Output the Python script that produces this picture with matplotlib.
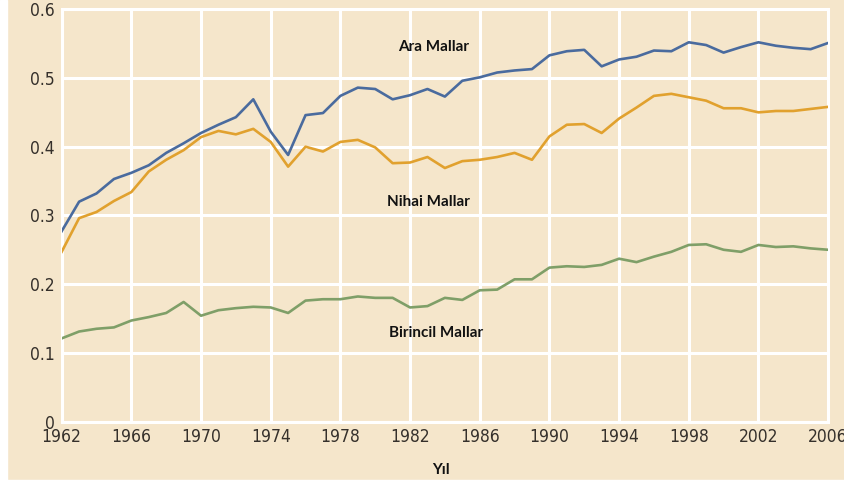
import matplotlib
matplotlib.use("Agg")
import matplotlib.pyplot as plt
from matplotlib.patches import Rectangle

years = list(range(1962, 2007))

# Ara Mallar (ara mallar payı)
ara = [0.277, 0.320, 0.332, 0.353, 0.362, 0.373, 0.391, 0.405, 0.420, 0.432,
       0.443, 0.469, 0.422, 0.388, 0.446, 0.449, 0.474, 0.486, 0.484, 0.469,
       0.475, 0.484, 0.473, 0.496, 0.501, 0.508, 0.511, 0.513, 0.533, 0.539,
       0.541, 0.517, 0.527, 0.531, 0.540, 0.539, 0.552, 0.548, 0.537, 0.545,
       0.552, 0.547, 0.544, 0.542, 0.551]

# Nihai Mallar
nihai = [0.247, 0.296, 0.305, 0.321, 0.334, 0.364, 0.381, 0.395, 0.414, 0.423,
         0.418, 0.426, 0.407, 0.371, 0.400, 0.393, 0.407, 0.410, 0.399, 0.376,
         0.377, 0.385, 0.369, 0.379, 0.381, 0.385, 0.391, 0.381, 0.415, 0.432,
         0.433, 0.420, 0.441, 0.457, 0.474, 0.477, 0.472, 0.467, 0.456, 0.456,
         0.450, 0.452, 0.452, 0.455, 0.458]

# Birincil Mallar
birincil = [0.121, 0.131, 0.135, 0.137, 0.147, 0.152, 0.158, 0.174, 0.154, 0.162,
            0.165, 0.167, 0.166, 0.158, 0.176, 0.178, 0.178, 0.182, 0.180, 0.180,
            0.166, 0.168, 0.180, 0.177, 0.191, 0.192, 0.207, 0.207, 0.224, 0.226,
            0.225, 0.228, 0.237, 0.232, 0.240, 0.247, 0.257, 0.258, 0.250, 0.247,
            0.257, 0.254, 0.255, 0.252, 0.250]

xticks = list(range(1962, 2007, 4))
yticks = [0, 0.1, 0.2, 0.3, 0.4, 0.5, 0.6]
ytick_labels = ["0", "0.1", "0.2", "0.3", "0.4", "0.5", "0.6"]

bg = "#f5e6cb"

fig = plt.figure(figsize=(8.45, 4.83), dpi=100, facecolor=bg)
# white strips at left and bottom edge like the scanned source
fig.patches.append(Rectangle((0, 0), 7 / 845, 1, transform=fig.transFigure,
                             color="white", zorder=-1))
fig.patches.append(Rectangle((0, 0), 1, 3 / 483, transform=fig.transFigure,
                             color="white", zorder=-1))

ax = fig.add_axes([0.073, 0.1273, 0.907, 0.8534])
ax.set_facecolor(bg)

ax.plot(years, ara, color="#4a6b9e", lw=1.9, zorder=3)
ax.plot(years, nihai, color="#e1a12e", lw=1.9, zorder=3)
ax.plot(years, birincil, color="#7f9f68", lw=1.9, zorder=3)

ax.set_xlim(1962, 2006)
ax.set_ylim(0, 0.6)
ax.set_xticks(xticks)
ax.set_yticks(yticks)
ax.set_yticklabels(ytick_labels)
ax.grid(True, color="white", lw=2.2)
ax.set_axisbelow(True)
for s in ax.spines.values():
    s.set_color("white")
    s.set_linewidth(2.2)
ax.tick_params(length=0, pad=5, colors="#35302b", labelsize=12.5)
for lab in ax.get_xticklabels() + ax.get_yticklabels():
    lab.set_family("DejaVu Sans")
    lab.set_fontstretch("condensed")

lab_kw = dict(ha="center", va="center", fontsize=11, fontweight="bold",
              color="#111111", family=["Lato", "DejaVu Sans"])
ax.text(1983.35, 0.5456, "Ara Mallar", **lab_kw)
ax.text(1983.05, 0.3195, "Nihai Mallar", **lab_kw)
ax.text(1983.5, 0.1288, "Birincil Mallar", **lab_kw)
fig.text(441 / 845, 1 - 470 / 483, "Yıl", ha="center", va="center",
         fontsize=11, fontweight="bold", color="#111111",
         family=["Lato", "DejaVu Sans"])

fig.savefig("out.png", dpi=100, facecolor=bg)
